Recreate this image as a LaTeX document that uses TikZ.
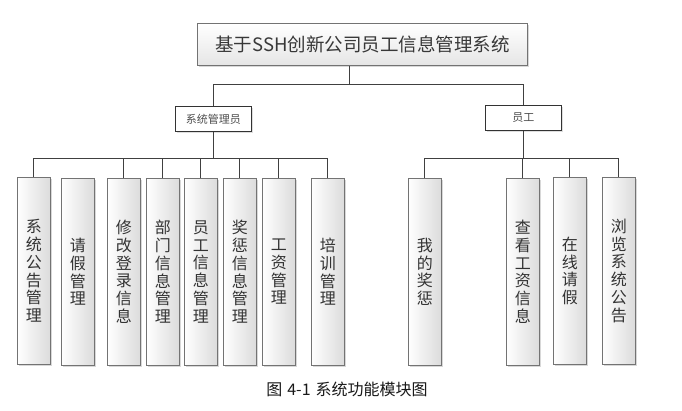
\documentclass[tikz,border=0pt]{standalone}
\usepackage{fontspec}
\newfontfamily\cjk{Noto Sans CJK SC}
\usetikzlibrary{shadows}
\begin{document}
\begin{tikzpicture}[x=1pt,y=-1pt,
  conn/.style={draw=black!75, line width=0.9pt},
  leaf/.style={draw=black!55, line width=0.7pt, left color=white, right color=black!14,
    drop shadow={shadow xshift=1.3pt, shadow yshift=-1.3pt, fill=black!30, opacity=0.5},
    anchor=north west, inner sep=0pt, minimum width=33pt, minimum height=187pt,
    align=center, font=\cjk\fontsize{16}{17.8}\selectfont, text=black!80},
  topbox/.style={draw=black!55, line width=0.8pt, top color=white, bottom color=black!10,
    drop shadow={shadow xshift=1.3pt, shadow yshift=-1.3pt, fill=black!30, opacity=0.5},
    anchor=north west, inner sep=0pt, minimum width=330pt, minimum height=42pt,
    font=\cjk\fontsize{18.5}{22}\selectfont, text=black!78},
  midbox/.style={draw=black!80, line width=0.8pt, fill=white,
    drop shadow={shadow xshift=1.2pt, shadow yshift=-1.2pt, fill=black!25, opacity=0.5},
    anchor=north west, inner sep=0pt, minimum width=76pt, minimum height=25pt,
    font=\cjk\fontsize{11}{13}\selectfont, text=black!70},
  captext/.style={font=\cjk\fontsize{16}{18}\selectfont, text=black!90}
]
\fill[white] (0,0) rectangle (682,411);
\useasboundingbox (0,0) rectangle (682,411);

\node[topbox] (title) at (197,23) {基于SSH创新公司员工信息管理系统};
\node[midbox] (admin) at (175,106) {系统管理员};
\node[midbox] (emp) at (485,105) {员工};

\node[leaf] (a1) at (17,177) {系\\统\\公\\告\\管\\理};
\node[leaf] (a2) at (61,178) {请\\假\\管\\理};
\node[leaf] (a3) at (107,178) {修\\改\\登\\录\\信\\息};
\node[leaf] (a4) at (146,178) {部\\门\\信\\息\\管\\理};
\node[leaf] (a5) at (184,178) {员\\工\\信\\息\\管\\理};
\node[leaf] (a6) at (223,178) {奖\\惩\\信\\息\\管\\理};
\node[leaf] (a7) at (262,178) {工\\资\\管\\理};
\node[leaf] (a8) at (311,178) {培\\训\\管\\理};

\node[leaf] (b1) at (408,178) {我\\的\\奖\\惩};
\node[leaf] (b2) at (506,178) {查\\看\\工\\资\\信\\息};
\node[leaf] (b3) at (553,177) {在\\线\\请\\假};
\node[leaf] (b4) at (602,177) {浏\\览\\系\\统\\公\\告};

\node[captext] (cap) at (347,389) {图\hspace{5pt}4-1\hspace{5pt}系统功能模块图};

\coordinate (bt) at (0,84);
\coordinate (bl) at (0,158);
\coordinate (tj) at ([xshift=-13pt]title.south);

\draw[conn] (tj) -- (tj |- bt) -| (admin.north);
\draw[conn] (tj |- bt) -| (emp.north);

\foreach \n in {a1,a3,a4,a5,a6,a7,a8}
  \draw[conn] (admin.south) -- (admin.south |- bl) -| (\n.north);
\foreach \n in {b1,b2,b3,b4}
  \draw[conn] (emp.south) -- (emp.south |- bl) -| (\n.north);
\end{tikzpicture}
\end{document}
